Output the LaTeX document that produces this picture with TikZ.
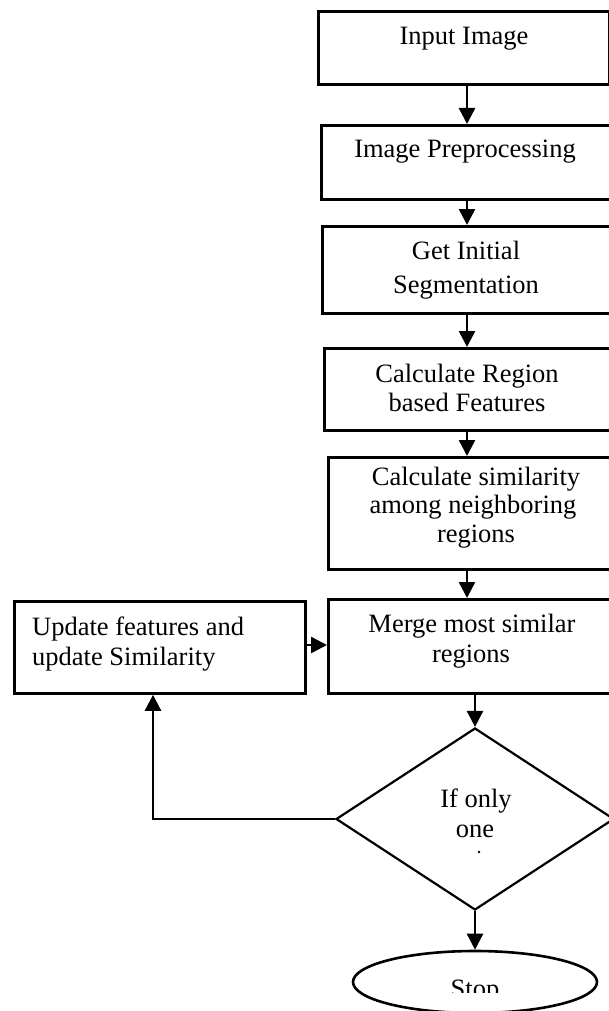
\documentclass[tikz,border=0pt]{standalone}
\usepackage{fontspec}
\setmainfont{Liberation Serif}
\usetikzlibrary{arrows.meta,shapes.geometric}
\begin{document}
\begin{tikzpicture}[x=1pt,y=-1pt,
  boxline/.style={draw=black,line width=2.8pt},
  txt/.style={inner sep=0pt,anchor=base,font=\fontsize{26.5}{30}\selectfont},
  arr/.style={line width=2.5pt,-{Triangle[width=16pt,length=16pt]}}]
\useasboundingbox (0,0) rectangle (609,1011);
% boxes
\node[boxline,inner sep=0pt,minimum width=291pt,minimum height=73pt,anchor=north west] (b1) at (317,10) {};
\node[boxline,inner sep=0pt,minimum width=292pt,minimum height=74pt,anchor=north west] (b2) at (320,124) {};
\node[boxline,inner sep=0pt,minimum width=291pt,minimum height=87pt,anchor=north west] (b3) at (321,225) {};
\node[boxline,inner sep=0pt,minimum width=289pt,minimum height=82pt,anchor=north west] (b4) at (323,347) {};
\node[boxline,inner sep=0pt,minimum width=285pt,minimum height=112pt,anchor=north west] (b5) at (327,456) {};
\node[boxline,inner sep=0pt,minimum width=285pt,minimum height=94pt,anchor=north west] (b6) at (327,598) {};
\node[boxline,inner sep=0pt,minimum width=291pt,minimum height=92pt,anchor=north west] (b7) at (13,600) {};
\node[draw=black,line width=2.2pt,diamond,inner sep=0pt,minimum width=278pt,minimum height=182pt] (d) at (475,819) {};
\node[draw=black,line width=2.6pt,ellipse,inner sep=0pt,minimum width=244pt,minimum height=62pt] (stop) at (475,982) {};
% texts
\node[txt] (t1) at (464,45) {Input Image};
\node[txt] (t2) at (465,158) {Image Preprocessing};
\node[txt] (t3a) at (466,259) {Get Initial};
\node[txt] (t3b) at (466,293) {Segmentation};
\node[txt] (t4a) at (467,382) {Calculate Region};
\node[txt] (t4b) at (467,411) {based Features};
\node[txt] (t5a) at (476,485) {Calculate similarity};
\node[txt] (t5b) at (473,513) {among neighboring};
\node[txt] (t5c) at (476,542) {regions};
\node[txt] (t6a) at (472,632) {Merge most similar};
\node[txt] (t6b) at (471,662) {regions};
\node[txt,anchor=base west] (t7a) at (32,635) {Update features and};
\node[txt,anchor=base west] (t7b) at (32,665) {update Similarity};
\node[txt] (t8a) at (476,807) {If only};
\node[txt] (t8b) at (475,837) {one};
\fill (479,852) circle (1.3pt);
\begin{scope}
  \clip (360,955) rectangle (590,992);
  \node[txt] (t9) at (475,997) {Stop};
\end{scope}
% connectors
\coordinate (xa) at (467,0);
\coordinate (xb) at (475,0);
\coordinate (xl) at (153,0);
\draw[arr] (b1.south -| xa) -- (b2.north -| xa);
\draw[arr] (b2.south -| xa) -- (b3.north -| xa);
\draw[arr] (b3.south -| xa) -- (b4.north -| xa);
\draw[arr] (b4.south -| xa) -- (b5.north -| xa);
\draw[arr] (b5.south -| xa) -- (b6.north -| xa);
\draw[arr] (b6.south -| xb) -- (d.north);
\draw[arr] (d.south) -- (stop.north);
\coordinate (y645) at (0,645);
\draw[arr] (b7.east |- y645) -- (b6.west |- y645);
\draw[arr] (d.west) -- (d.west -| xl) -- (b7.south -| xl);
\end{tikzpicture}
\end{document}
